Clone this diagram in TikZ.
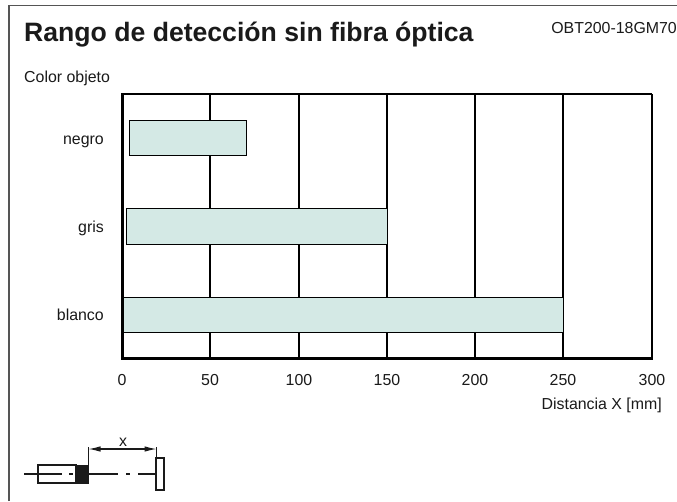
\documentclass[tikz,border=0pt]{standalone}
\usepackage{fontspec}
\setmainfont{Liberation Sans}
\usetikzlibrary{arrows.meta}
\definecolor{ink}{HTML}{1A1A1A}
\definecolor{barfill}{HTML}{D4E9E5}
\definecolor{framec}{HTML}{555555}
\tikzset{
  lab/.style={font=\fontsize{15.9}{18}\selectfont,text=ink,inner sep=0pt},
  ttl/.style={font=\fontsize{26.6}{30}\selectfont\bfseries,text=ink,inner sep=0pt,anchor=base west},
  grid line/.style={draw=black,line width=1.3pt},
  axis line/.style={draw=black,line width=3pt},
  bar/.style={draw=black,line width=1.3pt,fill=barfill},
  sens/.style={draw=ink,line width=1.1pt},
  dim/.style={draw=ink,line width=1.1pt},
  dimarrow/.style={draw=ink,line width=1.1pt,{Latex[length=12pt,width=5.5pt]}-{Latex[length=12pt,width=5.5pt]}}
}
\begin{document}
\begin{tikzpicture}[x=1pt,y=-1pt]
\useasboundingbox (0,0) rectangle (677,501);
\fill[white] (0,0) rectangle (677,501);
\draw[framec,line width=1.4pt] (9,501) -- (9,5.5) -- (677,5.5);
\node[ttl] (title) at (24,41) {Rango de detección sin fibra óptica};
\node[lab,anchor=base east] (code) at (677,33) {OBT200-18GM70};
\node[lab,anchor=base west] (ylab) at (24,82) {Color objeto};
% grid
\foreach \x in {210,299,387,475,563,652} \draw[grid line] (\x,94) -- (\x,358);
\draw[grid line] (122,94) -- (652,94);
% bars
\node[bar,minimum width=117pt,minimum height=35pt,inner sep=0pt,anchor=north west] (b1) at (129,120) {};
\node[bar,minimum width=261pt,minimum height=36pt,inner sep=0pt,anchor=north west] (b2) at (126,208) {};
\node[bar,minimum width=441pt,minimum height=35pt,inner sep=0pt,anchor=north west] (b3) at (122,297) {};
% axes
\draw[axis line] (122,93) -- (122,358) -- (653,358);
% category labels
\node[lab,anchor=base east] (n1) at (104,144) {negro};
\node[lab,anchor=base east] (n2) at (104,232) {gris};
\node[lab,anchor=base east] (n3) at (104,320) {blanco};
% ticks
\foreach \x/\t in {122/0,210/50,299/100,387/150,475/200,563/250,652/300}
  \node[lab,anchor=base] at (\x,385) {\t};
\node[lab,anchor=base east] (xlab) at (662,409) {Distancia X [mm]};
% sensor
\draw[sens] (24,474) -- (38,474);
\draw[sens] (38,465) rectangle (76,483);
\draw[sens] (38,474) -- (62,474);
\draw[sens] (69,474) -- (73,474);
\fill[ink] (76,465) rectangle (89,483.5);
\draw[sens] (89,474) -- (118,474);
\draw[sens] (126,474) -- (130,474);
\draw[sens] (138,474) -- (156,474);
\draw[draw=ink,line width=2pt,fill=white] (156,458) rectangle (164,490);
\draw[dim] (88.5,465) -- (88.5,447);
\draw[dim] (156.5,458) -- (156.5,447);
\coordinate (da) at (88.5,449);
\coordinate (db) at (156.5,449);
\draw[dimarrow] (da) -- (db);
\node[lab,anchor=base] (xl) at (123,446) {x};
\end{tikzpicture}
\end{document}
